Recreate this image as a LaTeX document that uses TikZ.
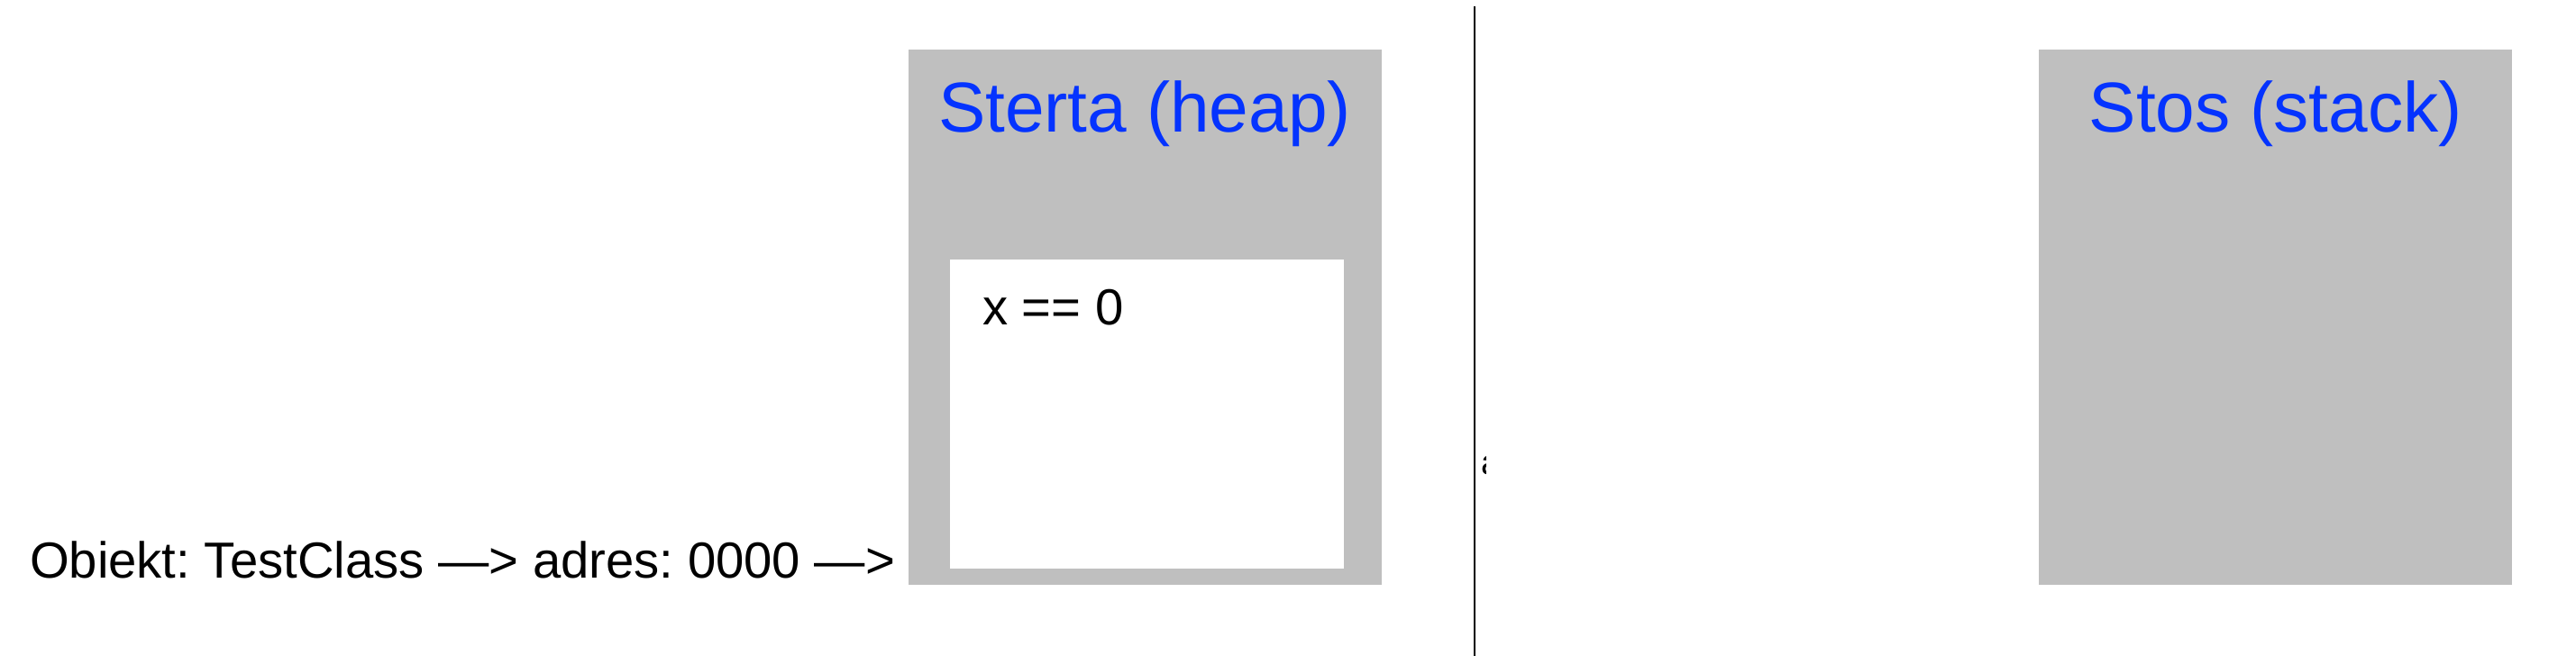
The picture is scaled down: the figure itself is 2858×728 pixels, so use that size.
\documentclass[tikz,border=0pt]{standalone}
\usepackage{fontspec}
\setmainfont{Liberation Sans}
\usetikzlibrary{positioning}
\definecolor{memgray}{RGB}{191,191,191}
\definecolor{titleblue}{RGB}{4,51,255}
\frenchspacing

\begin{document}
\begin{tikzpicture}[x=0.01cm, y=-0.01cm,
        every node/.style={inner sep=0pt, outer sep=0pt},
        area/.style={fill=memgray, minimum width=5.25cm, minimum height=5.94cm, anchor=north west},
        title/.style={text=titleblue, font=\fontsize{22.3}{26}\selectfont, anchor=base},
        label/.style={font=\fontsize{16}{19}\selectfont, anchor=base west}
    ]
    \useasboundingbox (0,0) rectangle (2858,728);

    % Heap
    \node[area] (heap) at (1008,55) {};
    \node[fill=white, minimum width=4.37cm, minimum height=3.43cm, anchor=north west] (object) at (1054,288) {};
    \node[title] (heaptitle) at (1270,147) {Sterta (heap)};
    \node[label] (value) at (1090,361) {x == 0};

    % Stack
    \node[area] (stack) at (2262,55) {};
    \node[title] (stacktitle) at (stack.north |- heaptitle.base) {Stos (stack)};

    % Reference
    \node[label] (ref) at (33,642) {Obiekt: TestClass —> adres: 0000 —>};

    % Divider
    \coordinate (top) at (1636,7);
    \coordinate (bottom) at (1636,728);
    \draw (top) -- (bottom);
    \begin{scope}
        \clip (1641,495) rectangle (1648,535);
        \node[font=\fontsize{11}{13}\selectfont, anchor=base west] (stray) at (1643,527) {a};
    \end{scope}

\end{tikzpicture}
\end{document}
